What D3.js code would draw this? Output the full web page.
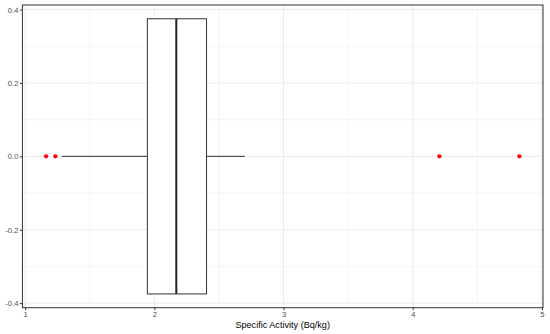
<!DOCTYPE html>
<html>
<head>
<meta charset="utf-8">
<script src="https://cdn.jsdelivr.net/npm/d3@7"></script>
<style>
  html, body { margin: 0; padding: 0; background: #fff; }
  svg { display: block; }
</style>
</head>
<body>
<svg id="chart" width="550" height="334"></svg>
<script>
// Box summary (Specific Activity, Bq/kg)
const boxStats = [{ lower: 1.286, q1: 1.946, median: 2.170, q3: 2.404, upper: 2.700 }];
const outliers = [1.162, 1.234, 4.206, 4.825];
const xTicks = [1, 2, 3, 4, 5];
const xMinor = [1.5, 2.5, 3.5, 4.5];
const yTicks = [-0.4, -0.2, 0.0, 0.2, 0.4];
const yMinor = [-0.3, -0.1, 0.1, 0.3];
const boxWidth = 0.75;
const xTitle = "Specific Activity (Bq/kg)";

const W = 550, H = 334;
const m = { left: 22.4, right: 7, top: 5, bottom: 26.3 };
const svg = d3.select("#chart");

const allX = outliers.concat([boxStats[0].lower, boxStats[0].upper]);
const [xmin, xmax] = d3.extent(allX);
const xpad = (xmax - xmin) * 0.05;
const x = d3.scaleLinear().domain([xmin - xpad, xmax + xpad]).range([m.left, W - m.right]);
const ypad = boxWidth * 0.05;
const y = d3.scaleLinear().domain([-boxWidth / 2 - ypad, boxWidth / 2 + ypad]).range([H - m.bottom, m.top]);

const [px0, px1] = x.range();
const [py1, py0] = y.range();

// panel background
svg.append("rect").attr("x", px0).attr("y", py0).attr("width", px1 - px0).attr("height", py1 - py0).attr("fill", "#fff");

// grid
const g = svg.append("g");
g.selectAll(".xmin").data(xMinor).join("line")
  .attr("x1", d => x(d)).attr("x2", d => x(d)).attr("y1", py0).attr("y2", py1)
  .attr("stroke", "#ebebeb").attr("stroke-width", 0.5);
g.selectAll(".ymin").data(yMinor).join("line")
  .attr("x1", px0).attr("x2", px1).attr("y1", d => y(d)).attr("y2", d => y(d))
  .attr("stroke", "#ebebeb").attr("stroke-width", 0.5);
g.selectAll(".xmaj").data(xTicks).join("line")
  .attr("x1", d => x(d)).attr("x2", d => x(d)).attr("y1", py0).attr("y2", py1)
  .attr("stroke", "#ebebeb").attr("stroke-width", 1);
g.selectAll(".ymaj").data(yTicks).join("line")
  .attr("x1", px0).attr("x2", px1).attr("y1", d => y(d)).attr("y2", d => y(d))
  .attr("stroke", "#ebebeb").attr("stroke-width", 1);

// box
const b = svg.append("g");
boxStats.forEach(s => {
  b.append("line").attr("x1", x(s.lower)).attr("x2", x(s.q1)).attr("y1", y(0)).attr("y2", y(0))
    .attr("stroke", "#333").attr("stroke-width", 1);
  b.append("line").attr("x1", x(s.q3)).attr("x2", x(s.upper)).attr("y1", y(0)).attr("y2", y(0))
    .attr("stroke", "#333").attr("stroke-width", 1);
  b.append("rect").attr("x", x(s.q1)).attr("y", y(boxWidth / 2))
    .attr("width", x(s.q3) - x(s.q1)).attr("height", y(-boxWidth / 2) - y(boxWidth / 2))
    .attr("fill", "#fff").attr("stroke", "#333").attr("stroke-width", 1);
  b.append("line").attr("x1", x(s.median)).attr("x2", x(s.median))
    .attr("y1", y(boxWidth / 2)).attr("y2", y(-boxWidth / 2))
    .attr("stroke", "#222").attr("stroke-width", 2);
});
b.selectAll("circle").data(outliers).join("circle")
  .attr("cx", d => x(d)).attr("cy", y(0)).attr("r", 2.1).attr("fill", "#ff0000");

// panel border
svg.append("rect").attr("x", px0).attr("y", py0).attr("width", px1 - px0).attr("height", py1 - py0)
  .attr("fill", "none").attr("stroke", "#333").attr("stroke-width", 1);

// axes
const fmtY = d => d3.format(".1f")(d).replace("−", "-");
const ax = svg.append("g").attr("transform", `translate(0,${py1})`)
  .call(d3.axisBottom(x).tickValues(xTicks).tickFormat(d3.format("d")).tickSize(2.5).tickPadding(1.5));
const ay = svg.append("g").attr("transform", `translate(${px0},0)`)
  .call(d3.axisLeft(y).tickValues(yTicks).tickFormat(fmtY).tickSize(2.5).tickPadding(1.5));
[ax, ay].forEach(a => {
  a.select(".domain").remove();
  a.selectAll(".tick line").attr("stroke", "#333");
  a.selectAll(".tick text").attr("fill", "#4d4d4d")
    .style("font-family", "Liberation Sans, Arial, sans-serif").style("font-size", "7.6px");
});

svg.append("text").attr("x", (px0 + px1) / 2).attr("y", 328)
  .attr("text-anchor", "middle").attr("fill", "#000")
  .style("font-family", "Liberation Sans, Arial, sans-serif").style("font-size", "9.1px")
  .text(xTitle);
</script>
</body>
</html>
